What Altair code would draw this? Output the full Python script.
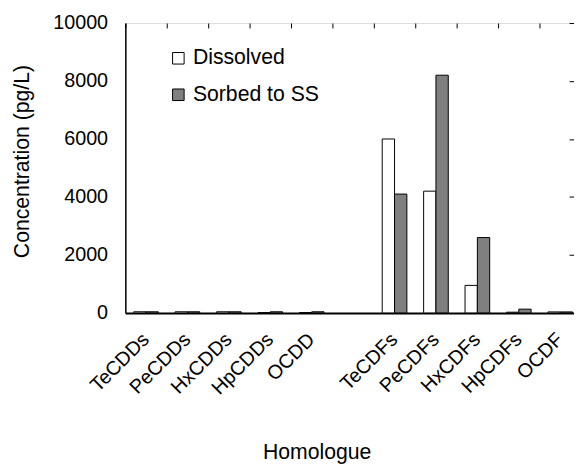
import altair as alt
import pandas as pd

# Data
categories = ["TeCDDs", "PeCDDs", "HxCDDs", "HpCDDs", "OCDD",
              "TeCDFs", "PeCDFs", "HxCDFs", "HpCDFs", "OCDF"]
slots = ["TeCDDs", "PeCDDs", "HxCDDs", "HpCDDs", "OCDD", " ",
         "TeCDFs", "PeCDFs", "HxCDFs", "HpCDFs", "OCDF"]
dissolved = [40, 40, 40, 10, 10, 6000, 4200, 950, 25, 35]
sorbed = [40, 40, 40, 40, 40, 4100, 8200, 2600, 130, 35]
series = ["Dissolved", "Sorbed to SS"]
y_ticks = [0, 2000, 4000, 6000, 8000, 10000]

rows = []
for c, d, s in zip(categories, dissolved, sorbed):
    rows.append({"Homologue": c, "Phase": series[0], "Value": d})
    rows.append({"Homologue": c, "Phase": series[1], "Value": s})
df = pd.DataFrame(rows)
label_df = pd.DataFrame({"Homologue": categories})

FONT = "Liberation Sans"
TICK_FS = 20
TITLE_FS = 21.5

xscale = alt.Scale(domain=slots, range=[0, 462], paddingInner=0, paddingOuter=0)
yscale = alt.Scale(domain=[0, 10000], nice=False)

bars = alt.Chart(df).mark_bar(stroke="black", strokeWidth=1).encode(
    x=alt.X("Homologue:N", scale=xscale, sort=slots,
            axis=alt.Axis(title="Homologue", labels=False, ticks=False,
                          domainColor="black", domainWidth=2,
                          titleFontSize=TITLE_FS, titleFontWeight="normal",
                          titleX=194, titleY=148, titleBaseline="alphabetic", titleAlign="center",
                          titleColor="black", titleFont=FONT)),
    xOffset=alt.XOffset("Phase:N", scale=alt.Scale(domain=series, paddingInner=0, paddingOuter=0.68)),
    y=alt.Y("Value:Q", scale=yscale,
            axis=alt.Axis(title="Concentration (pg/L)", values=y_ticks, format="d",
                          ticks=False, domainColor="black", domainWidth=1.5, labelPadding=18,
                          labelFontSize=TICK_FS, titleFontSize=TITLE_FS, titleFontWeight="normal",
                          titleAngle=270, titleX=-104, titleY=140, titleBaseline="middle",
                          titleAlign="center", labelColor="black", titleColor="black",
                          labelFont=FONT, titleFont=FONT, grid=False)),
    color=alt.Color("Phase:N", scale=alt.Scale(domain=series, range=["white", "#808080"]),
                    legend=alt.Legend(orient="none", legendX=43, legendY=25, title=None,
                                      symbolType="square", symbolSize=137,
                                      symbolStrokeColor="black", symbolStrokeWidth=1,
                                      labelFontSize=TITLE_FS, labelOffset=4, rowPadding=14,
                                      padding=0, labelColor="black", labelFont=FONT)),
)

# invisible layer carrying inward-pointing tick axes
tick_layer = alt.Chart(df).mark_point(opacity=0).encode(
    x=alt.X("Homologue:N", scale=xscale, sort=slots,
            axis=alt.Axis(title=None, labels=False, domain=False, offset=-5,
                          tickSize=5, tickBand="extent", tickColor="black", tickWidth=1)),
    y=alt.Y("Value:Q", scale=yscale,
            axis=alt.Axis(title=None, labels=False, domain=False, offset=-5,
                          tickSize=5, values=y_ticks, tickColor="black", tickWidth=1, grid=False)),
)

# rotated category labels, placed by the x scale at the zero line
labels = alt.Chart(label_df).mark_text(
    angle=315, align="right", baseline="middle", dx=-17, dy=17,
    fontSize=TICK_FS, font=FONT, color="black",
).encode(
    x=alt.X("Homologue:N", scale=xscale, sort=slots, axis=None),
    y=alt.YDatum(datum=0, scale=yscale, axis=None),
    text="Homologue:N",
)

chart = alt.layer(bars, tick_layer, labels).resolve_axis(x="independent", y="independent").properties(
    width=455, height=294,
    autosize=alt.AutoSizeParams(type="none"),
    padding={"left": 119, "top": 12, "right": 0, "bottom": 152},
).configure_view(stroke=None).configure(font=FONT)

chart.save("out.html", embed_options={"renderer": "svg", "actions": False})
